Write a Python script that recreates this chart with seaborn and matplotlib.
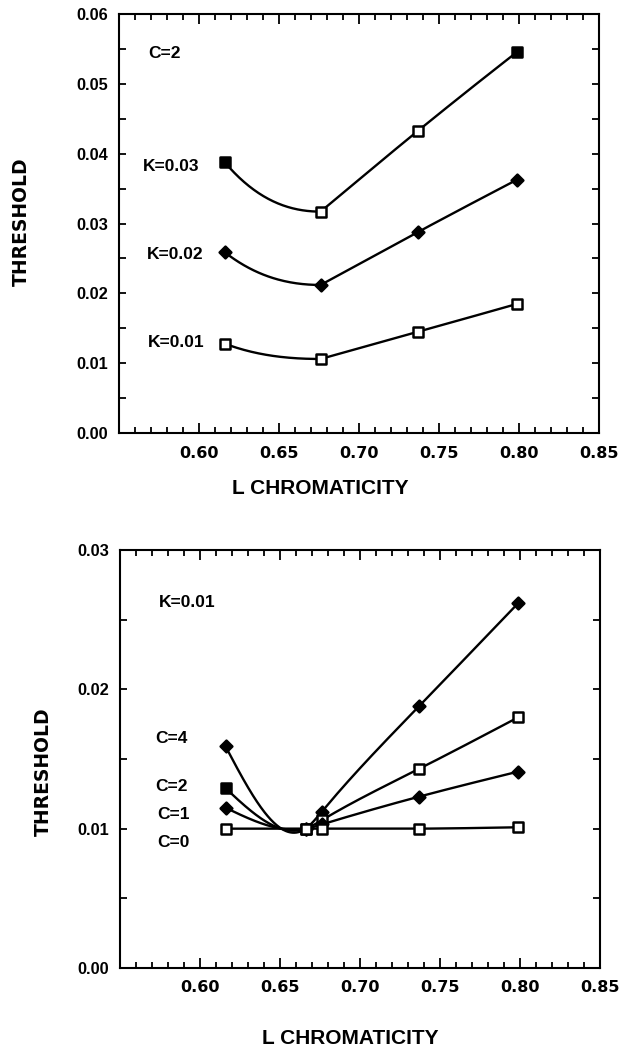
import numpy as np
import pandas as pd
import matplotlib
matplotlib.use("Agg")
import matplotlib.pyplot as plt
import seaborn as sns
from matplotlib.ticker import MultipleLocator, FormatStrFormatter

# Upper panel: C = 2, three K levels
top_x = [0.616, 0.676, 0.737, 0.799]
top_k003 = [0.0388, 0.0317, 0.0433, 0.0546]
top_k002 = [0.0259, 0.0212, 0.0288, 0.0363]
top_k001 = [0.0128, 0.0106, 0.0145, 0.0185]
top_labels = ["K=0.03", "K=0.02", "K=0.01"]
top_note = "C=2"

# Lower panel: K = 0.01, four C levels
bot_x = [0.616, 0.666, 0.676, 0.737, 0.799]
bot_c4 = [0.0159, 0.0100, 0.0112, 0.0188, 0.0262]
bot_c2 = [0.0129, 0.0100, 0.0106, 0.0143, 0.0180]
bot_c1 = [0.0115, 0.0100, 0.0103, 0.0123, 0.0141]
bot_c0 = [0.0100, 0.0100, 0.0100, 0.0100, 0.0101]
bot_labels = ["C=4", "C=2", "C=1", "C=0"]
bot_note = "K=0.01"

x_ticks = [0.60, 0.65, 0.70, 0.75, 0.80, 0.85]
top_y_ticks = [0.00, 0.01, 0.02, 0.03, 0.04, 0.05, 0.06]
bot_y_ticks = [0.00, 0.01, 0.02, 0.03]
x_title = "L CHROMATICITY"
y_title = "THRESHOLD"

sns.set_theme(style="ticks")
plt.rcParams["font.family"] = ["Liberation Sans", "DejaVu Sans"]
plt.rcParams.update({
    "text.color": "black",
    "axes.labelcolor": "black",
    "xtick.color": "black",
    "ytick.color": "black",
    "axes.edgecolor": "black",
    "axes.linewidth": 1.5,
})


def natural_spline(x, y, n=300):
    """Natural cubic spline through the measured points."""
    x = np.asarray(x, float)
    y = np.asarray(y, float)
    m = len(x)
    h = np.diff(x)
    A = np.zeros((m, m))
    r = np.zeros(m)
    A[0, 0] = A[-1, -1] = 1.0
    for i in range(1, m - 1):
        A[i, i - 1] = h[i - 1]
        A[i, i] = 2 * (h[i - 1] + h[i])
        A[i, i + 1] = h[i]
        r[i] = 3 * ((y[i + 1] - y[i]) / h[i] - (y[i] - y[i - 1]) / h[i - 1])
    c = np.linalg.solve(A, r)
    b = np.diff(y) / h - h * (2 * c[:-1] + c[1:]) / 3
    d = (c[1:] - c[:-1]) / (3 * h)
    xs = np.linspace(x[0], x[-1], n)
    idx = np.clip(np.searchsorted(x, xs, side="right") - 1, 0, m - 2)
    dx = xs - x[idx]
    ys = y[idx] + b[idx] * dx + c[idx] * dx ** 2 + d[idx] * dx ** 3
    return xs, ys


def hermite_curve(x, y, n=80):
    """Piecewise cubic Hermite curve: flat approach into a minimum,
    straight runs where neighbouring slopes agree."""
    x = np.asarray(x, float)
    y = np.asarray(y, float)
    m = len(x)
    h = np.diff(x)
    s = np.diff(y) / h
    t_in = np.zeros(m)
    t_out = np.zeros(m)
    # end tangents (three-point estimate)
    t_out[0] = ((2 * h[0] + h[1]) * s[0] - h[0] * s[1]) / (h[0] + h[1])
    t_in[-1] = ((2 * h[-1] + h[-2]) * s[-1] - h[-1] * s[-2]) / (h[-1] + h[-2])
    for i in range(1, m - 1):
        if s[i - 1] * s[i] <= 0:
            t_in[i] = 0.0
            t_out[i] = s[i]
        else:
            t_in[i] = t_out[i] = 0.5 * (s[i - 1] + s[i])
    xs_all, ys_all = [], []
    for i in range(m - 1):
        u = np.linspace(0, 1, n)
        h00 = 2 * u ** 3 - 3 * u ** 2 + 1
        h10 = u ** 3 - 2 * u ** 2 + u
        h01 = -2 * u ** 3 + 3 * u ** 2
        h11 = u ** 3 - u ** 2
        yy = (h00 * y[i] + h10 * h[i] * t_out[i]
              + h01 * y[i + 1] + h11 * h[i] * t_in[i + 1])
        xs_all.append(x[i] + u * h[i])
        ys_all.append(yy)
    return np.concatenate(xs_all), np.concatenate(ys_all)


def draw_series(ax, x, y, marker, fill, curve):
    xs, ys = curve(x, y)
    sns.lineplot(x=xs, y=ys, ax=ax, color="black", linewidth=1.7,
                 sort=False, estimator=None)
    pts = pd.DataFrame({"x": x, "y": y, "filled": fill})
    size = 46 if marker == "s" else 36
    for filled, grp in pts.groupby("filled"):
        sns.scatterplot(data=grp, x="x", y="y", ax=ax, marker=marker, s=size,
                        color="black" if filled else "white",
                        edgecolor="black", linewidth=1.8, zorder=5)


def style_axes(ax, yticks):
    ax.set_xlim(0.55, 0.85)
    ax.set_ylim(yticks[0], yticks[-1])
    ax.set_xticks(x_ticks)
    ax.xaxis.set_minor_locator(MultipleLocator(0.01))
    ax.set_yticks(yticks)
    ax.yaxis.set_minor_locator(MultipleLocator(0.005))
    ax.xaxis.set_major_formatter(FormatStrFormatter("%.2f"))
    ax.yaxis.set_major_formatter(FormatStrFormatter("%.2f"))
    ax.tick_params(which="both", direction="in", top=True, right=True,
                   color="black", width=1.3)
    ax.tick_params(axis="x", which="major", length=7, pad=9)
    ax.tick_params(axis="x", which="minor", length=4)
    ax.tick_params(axis="y", which="both", length=5, pad=8)
    for lab in ax.get_xticklabels():
        lab.set_fontfamily("DejaVu Sans")
        lab.set_fontweight("bold")
        lab.set_fontsize(11.5)
        lab.set_color("black")
    for lab in ax.get_yticklabels():
        lab.set_fontfamily("Liberation Sans")
        lab.set_fontweight("bold")
        lab.set_fontsize(11.8)
        lab.set_color("black")
    for sp in ax.spines.values():
        sp.set_visible(True)
        sp.set_color("black")
        sp.set_linewidth(1.5)
    ax.set_xlabel("")
    ax.set_ylabel("")
    ax.grid(False)


W, H = 621, 1055
fig = plt.figure(figsize=(W / 100, H / 100), dpi=100)
fig.patch.set_facecolor("white")
ax1 = fig.add_axes([119 / W, 1 - 433 / H, 480 / W, 419 / H])
ax2 = fig.add_axes([120 / W, 1 - 968 / H, 480 / W, 418 / H])

# Upper panel
draw_series(ax1, top_x, top_k003, "s", [True, False, False, True], hermite_curve)
draw_series(ax1, top_x, top_k002, "D", [True] * 4, hermite_curve)
draw_series(ax1, top_x, top_k001, "s", [False] * 4, hermite_curve)
style_axes(ax1, top_y_ticks)

txt = dict(fontsize=12.5, fontweight="bold", ha="left", va="center",
           color="black", family=["Liberation Sans", "DejaVu Sans"])
ax1.text(0.5681, 0.0544, top_note, **txt)
for lab, yy, xx in zip(top_labels, [0.0382, 0.0255, 0.0129],
                       [0.5650, 0.5675, 0.5681]):
    ax1.text(xx, yy, lab, **txt)

# Lower panel
draw_series(ax2, bot_x, bot_c4, "D", [True] * 5, natural_spline)
draw_series(ax2, bot_x, bot_c2, "s", [True, True, False, False, False], natural_spline)
draw_series(ax2, bot_x, bot_c1, "D", [True] * 5, natural_spline)
draw_series(ax2, bot_x, bot_c0, "s", [False] * 5, natural_spline)
style_axes(ax2, bot_y_ticks)

ax2.text(0.5744, 0.0262, bot_note, **txt)
for lab, yy, xx in zip(bot_labels, [0.01644, 0.01306, 0.01105, 0.00904],
                       [0.5719, 0.5719, 0.5731, 0.5731]):
    ax2.text(xx, yy, lab, **txt)

# Axis titles
xt_kw = dict(fontweight="bold", ha="center", va="center", color="black",
             family=["Liberation Sans", "DejaVu Sans"], fontsize=15)
fig.text(320 / W, 1 - 488 / H, x_title, **xt_kw)
fig.text(350 / W, 1 - 1038 / H, x_title, **xt_kw)
yt_kw = dict(fontweight="bold", ha="center", va="center", color="black",
             family=["DejaVu Sans"], fontsize=13.5, rotation=90)
fig.text(21 / W, 1 - 222 / H, y_title, **yt_kw)
fig.text(43 / W, 1 - 772 / H, y_title, **yt_kw)

fig.savefig("out.png", dpi=100, facecolor="white")
